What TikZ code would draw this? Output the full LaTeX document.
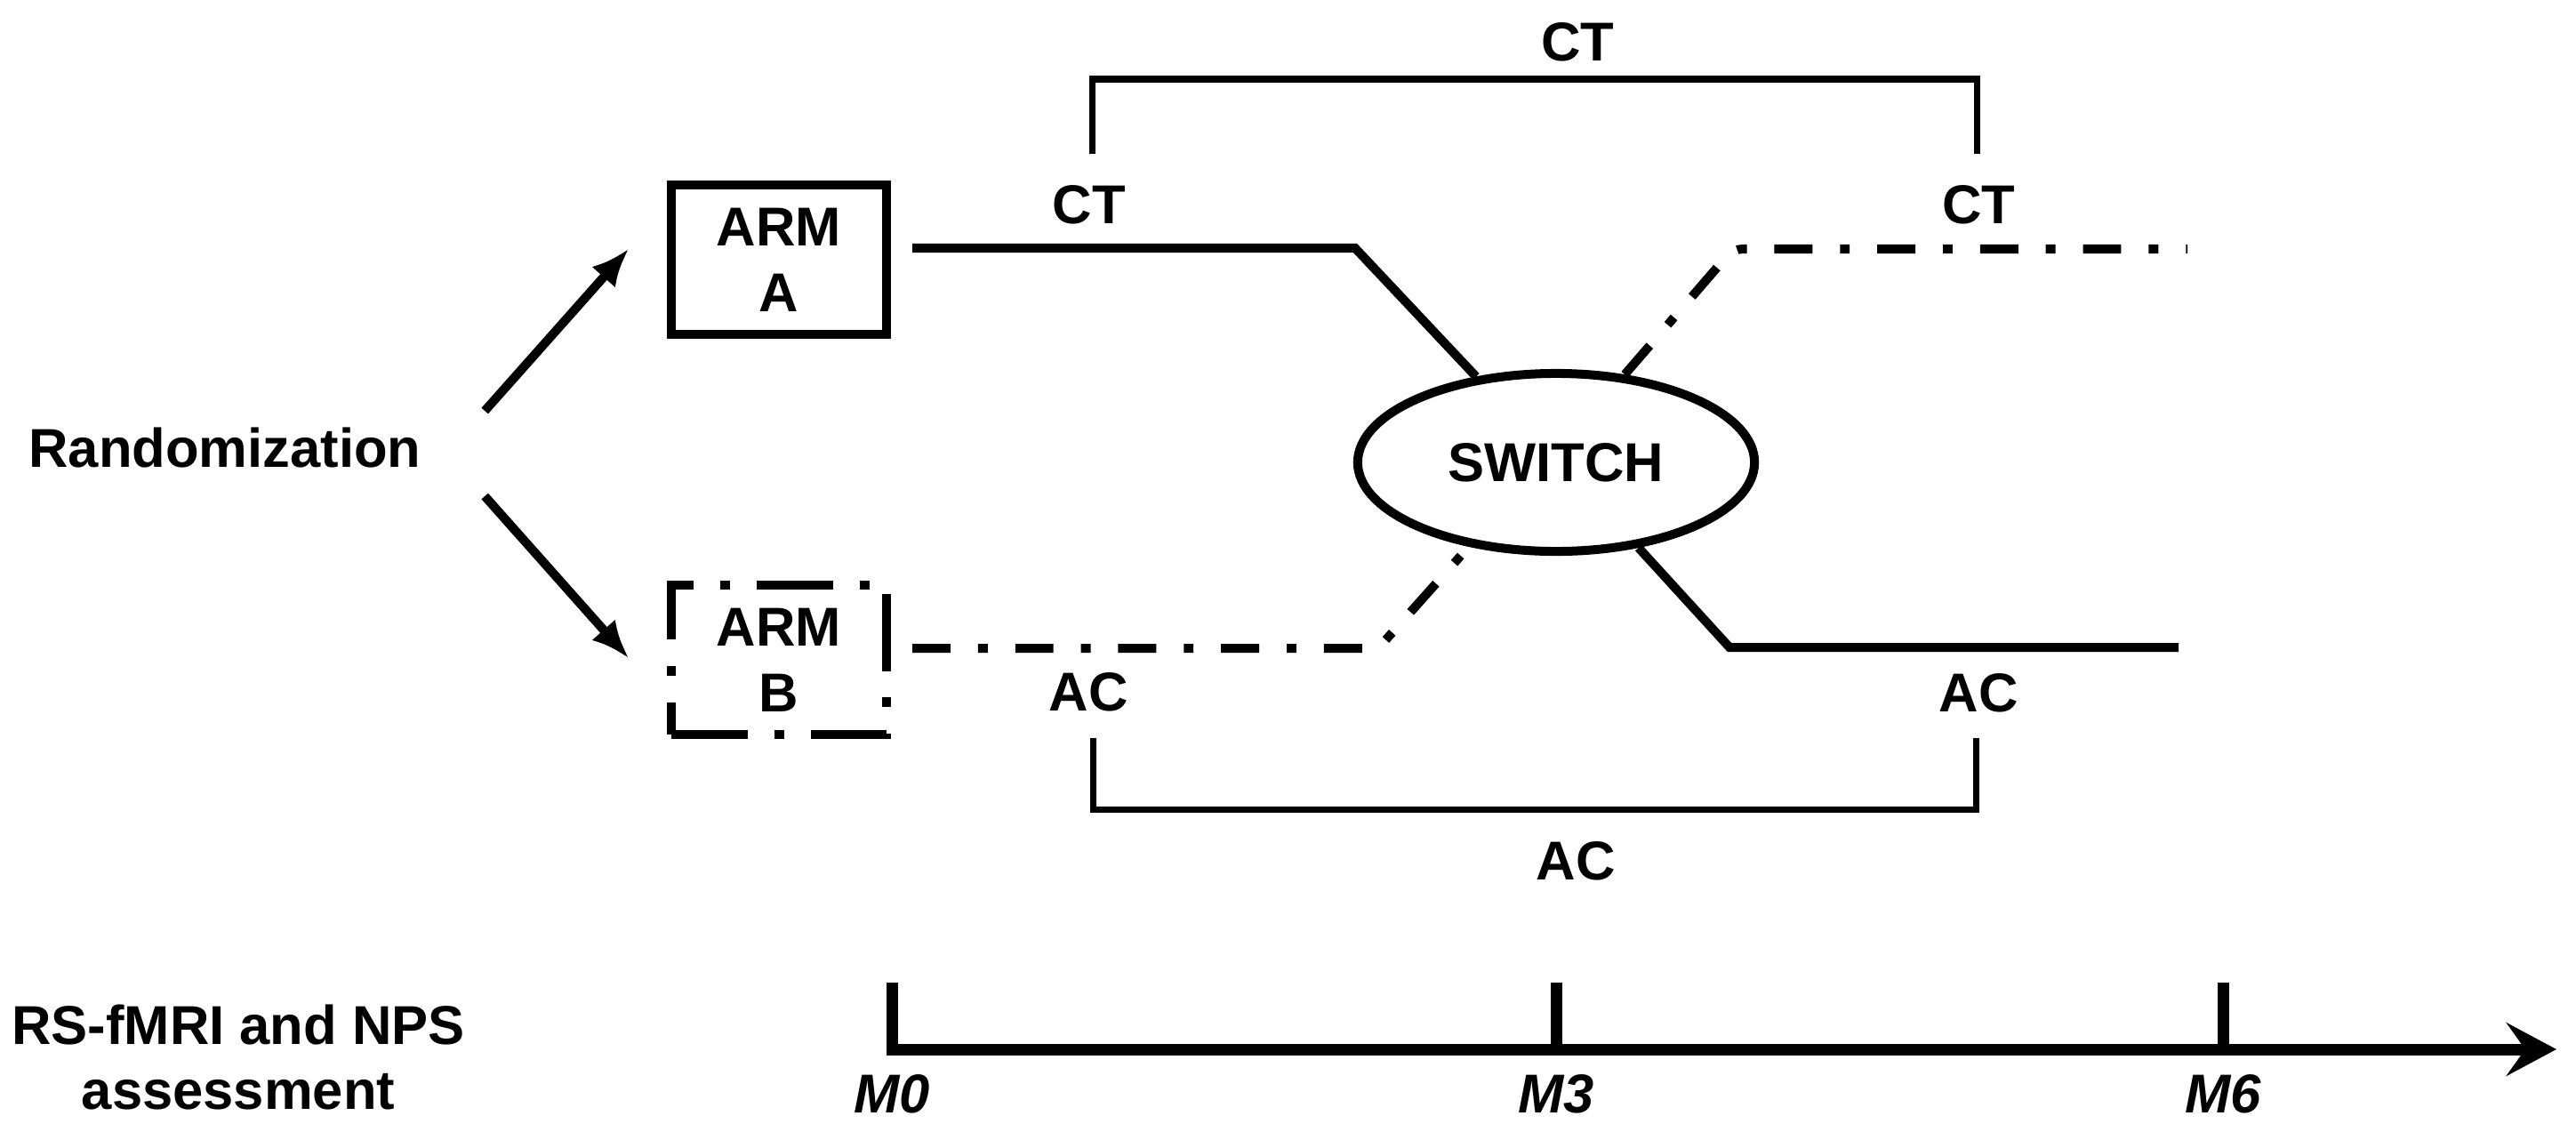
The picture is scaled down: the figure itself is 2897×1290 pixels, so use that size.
\documentclass[tikz,border=0pt]{standalone}
\usepackage{fontspec}
\setmainfont{Liberation Sans}
\usetikzlibrary{positioning,shapes.geometric,arrows.meta,calc}

\begin{document}
\begin{tikzpicture}[x=0.01cm, y=-0.01cm,
    lab/.style={font=\fontsize{17.5}{21}\selectfont\bfseries, inner sep=0pt, align=center},
    armbox/.style={lab, draw, line width=2.85pt, minimum width=2.42cm, minimum height=1.68cm},
    track/.style={line width=2.85pt},
    dashdot/.style={track, dash pattern=on 12.2pt off 8.8pt on 3.1pt off 8.8pt},
    bracket/.style={line width=2pt},
    arr/.style={line width=2.85pt, -{Latex[length=12pt,width=10pt]}}]
    \useasboundingbox (0,0) rectangle (2897,1290);

    % Randomization and the two arms
    \node[lab] (rand) at (253,503) {Randomization};
    \node[armbox] (armA) at (876,292) {ARM\\A};
    \node[armbox, dash pattern=on 24.5pt off 8.5pt on 3.1pt off 8.5pt] (armB) at (876,742) {ARM\\B};
    \draw[arr] ($(rand.east)+(71,-41)$) -- ($(armA.west)+(-43,-12)$);
    \draw[arr] ($(rand.east)+(71,55)$) -- ($(armB.west)+(-43,-2)$);

    % Switch
    \node[lab, ellipse, draw, line width=2.85pt, minimum width=4.46cm, minimum height=2cm] (sw) at (1750,520) {SWITCH};

    % Treatment tracks
    \coordinate (ctend) at (2460,280);
    \coordinate (acend) at (2450,728);
    \draw[track] ($(armA.east)+(24,-13)$) -- (1524,279) -- (sw.133);
    \draw[track] (sw.-46) -- (1945,728) -- (acend);
    \draw[dashdot] ($(armB.east)+(24,-13)$) -- (1550,729) -- (sw.224);
    \draw[dashdot, rounded corners=3pt] (sw.52) -- (1949,280) -- (ctend);

    % Labels along the tracks
    \node[lab] (ctA) at (1225,230) {CT};
    \node[lab] (ctB) at (2225,230) {CT};
    \node[lab] (ctAll) at (1774,47) {CT};
    \node[lab] (acA) at (1224,778) {AC};
    \node[lab] (acB) at (2225,779) {AC};
    \node[lab] (acAll) at (1772,968) {AC};

    % Brackets
    \draw[bracket] ($(ctA)+(3,-57)$) |- ($(ctAll)+(0,42)$) -| ($(ctB)+(-2,-57)$);
    \draw[bracket] ($(acA)+(5,52)$) |- ($(acAll)+(0,-58)$) -| ($(acB)+(-3,51)$);

    % Timeline
    \node[lab] (assess) at (268,1189) {RS-fMRI and NPS\\assessment};
    \foreach \x/\m in {1003/0, 1750/3, 2500/6} {
        \coordinate (t\m) at (\x,1180);
        \draw[line width=3.7pt] (t\m) -- ++(0,-75);
        \node[lab, font=\fontsize{17.5}{21}\selectfont\bfseries\itshape] (m\m) at (\x,1230) {M\m};
    }
    \coordinate (tend) at (2875,1180);
    \draw[line width=3.7pt, -{Stealth[length=16pt,width=17pt,inset=6pt]}] ($(t0)+(-6,0)$) -- (tend);
\end{tikzpicture}
\end{document}
